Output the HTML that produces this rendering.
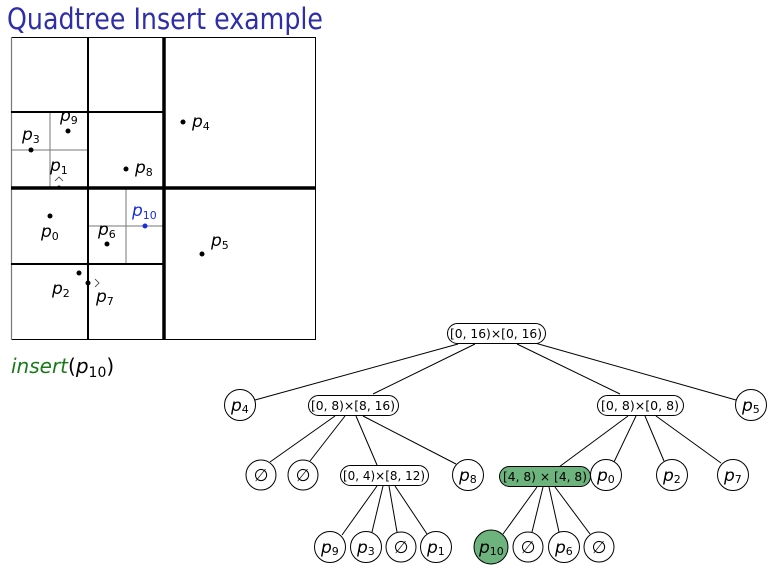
<!DOCTYPE html>
<html><head><meta charset="utf-8"><style>
html,body{margin:0;padding:0;background:#fff;}
svg{display:block;}
text{font-family:"DejaVu Sans","Liberation Sans",sans-serif;}
.p{font-style:italic;font-size:17px;}
.s{font-size:11px;font-style:normal;}
.b{font-size:12.5px;}
</style></head><body>
<svg width="777" height="569" viewBox="0 0 777 569" xmlns="http://www.w3.org/2000/svg">
<text x="7" y="29" font-size="29" fill="#2e2ea8" textLength="316" lengthAdjust="spacingAndGlyphs">Quadtree Insert example</text>
<g fill="none">
<rect x="11.5" y="37.5" width="304" height="302" stroke="#000" stroke-width="1"/>
<line x1="11.5" y1="37" x2="11.5" y2="340" stroke="#777" stroke-width="1.2"/>
<line x1="50" y1="112" x2="50" y2="188" stroke="#777" stroke-width="1"/>
<line x1="11" y1="150" x2="88" y2="150" stroke="#777" stroke-width="1"/>
<line x1="126" y1="188" x2="126" y2="264" stroke="#777" stroke-width="1"/>
<line x1="88" y1="226" x2="164" y2="226" stroke="#777" stroke-width="1"/>
<line x1="88" y1="37" x2="88" y2="340" stroke="#000" stroke-width="2"/>
<line x1="11" y1="112" x2="164" y2="112" stroke="#000" stroke-width="2"/>
<line x1="11" y1="264" x2="164" y2="264" stroke="#000" stroke-width="2"/>
<line x1="164" y1="37" x2="164" y2="340" stroke="#000" stroke-width="3.5"/>
<line x1="11" y1="188" x2="316" y2="188" stroke="#000" stroke-width="3.5"/>
</g>
<g fill="#000">
<circle cx="68" cy="131" r="2.5"/><circle cx="31" cy="150" r="2.5"/><circle cx="59" cy="187" r="1.5"/>
<circle cx="126" cy="169" r="2.5"/><circle cx="183" cy="122" r="2.5"/><circle cx="50" cy="216" r="2.5"/>
<circle cx="107" cy="244" r="2.5"/><circle cx="202" cy="254" r="2.5"/><circle cx="79" cy="273" r="2.5"/>
<circle cx="88" cy="283" r="2.5"/>
</g>
<circle cx="145" cy="226" r="2.5" fill="#1a2ee0"/>
<path d="M55 181 L59 177 L63 181" fill="none" stroke="#333" stroke-width="0.8"/>
<path d="M95 279 L99 283 L95 287" fill="none" stroke="#333" stroke-width="0.8"/>
<g class="p">
<text x="60" y="121">p<tspan class="s" dy="3">9</tspan></text>
<text x="22" y="140">p<tspan class="s" dy="3">3</tspan></text>
<text x="50" y="171">p<tspan class="s" dy="3">1</tspan></text>
<text x="135" y="173">p<tspan class="s" dy="3">8</tspan></text>
<text x="192" y="127">p<tspan class="s" dy="3">4</tspan></text>
<text x="41" y="237">p<tspan class="s" dy="3">0</tspan></text>
<text x="132" y="216" fill="#1a2ee0">p<tspan class="s" dy="3">10</tspan></text>
<text x="98" y="235">p<tspan class="s" dy="3">6</tspan></text>
<text x="211" y="246">p<tspan class="s" dy="3">5</tspan></text>
<text x="52" y="294">p<tspan class="s" dy="3">2</tspan></text>
<text x="96" y="302">p<tspan class="s" dy="3">7</tspan></text>
</g>
<text x="11" y="373" font-size="20"><tspan fill="#1a7a1a" font-style="italic">insert</tspan>(<tspan font-style="italic">p</tspan><tspan font-size="14" dy="4">10</tspan><tspan dy="-4">)</tspan></text>
<g stroke="#000" stroke-width="1">
<line x1="458" y1="344" x2="255" y2="400"/>
<line x1="475" y1="344" x2="373" y2="394"/>
<line x1="517" y1="344" x2="620" y2="394"/>
<line x1="535" y1="343" x2="736" y2="400"/>
<line x1="335" y1="416" x2="270" y2="462"/>
<line x1="345" y1="416" x2="310" y2="461"/>
<line x1="356" y1="416" x2="377" y2="465"/>
<line x1="363" y1="416" x2="456" y2="464"/>
<line x1="628" y1="416" x2="559" y2="467"/>
<line x1="636" y1="416" x2="614" y2="462"/>
<line x1="645" y1="416" x2="664" y2="461"/>
<line x1="656" y1="416" x2="721" y2="463"/>
<line x1="377" y1="486" x2="342" y2="535"/>
<line x1="383" y1="486" x2="372" y2="532"/>
<line x1="389" y1="486" x2="397" y2="532"/>
<line x1="395" y1="486" x2="427" y2="534"/>
<line x1="537" y1="487" x2="503" y2="534"/>
<line x1="543" y1="487" x2="532" y2="532"/>
<line x1="549" y1="487" x2="559" y2="532"/>
<line x1="555" y1="487" x2="590" y2="534"/>
</g>
<g stroke="#000" stroke-width="1" fill="#fff">
<rect x="447.5" y="323.5" width="98" height="20" rx="10"/>
<rect x="308.5" y="395.5" width="90" height="20" rx="10"/>
<rect x="597.5" y="395.5" width="86" height="20" rx="10"/>
<rect x="340.5" y="465.5" width="88" height="20" rx="10"/>
<rect x="499.5" y="466.5" width="91" height="20" rx="10" fill="#6db37e"/>
</g>
<g class="b" text-anchor="middle">
<text x="496" y="338" textLength="92" lengthAdjust="spacingAndGlyphs">[0, 16)×[0, 16)</text>
<text x="353" y="410" textLength="84" lengthAdjust="spacingAndGlyphs">[0, 8)×[8, 16)</text>
<text x="640" y="410" textLength="78" lengthAdjust="spacingAndGlyphs">[0, 8)×[0, 8)</text>
<text x="384" y="480" textLength="82" lengthAdjust="spacingAndGlyphs">[0, 4)×[8, 12)</text>
<text x="545" y="481" textLength="84" lengthAdjust="spacingAndGlyphs">[4, 8) × [4, 8)</text>
</g>
<g stroke="#000" stroke-width="1" fill="#fff">
<circle cx="240" cy="405" r="15.5"/><circle cx="751" cy="405" r="15.5"/>
<circle cx="261" cy="475" r="15"/><circle cx="303" cy="475" r="15"/>
<circle cx="468" cy="475" r="15.5"/><circle cx="606" cy="475" r="15.5"/>
<circle cx="672" cy="475" r="15.5"/><circle cx="733" cy="475" r="15.5"/>
<circle cx="330" cy="547" r="15.5"/><circle cx="366" cy="547" r="15.5"/>
<circle cx="401" cy="547" r="15"/><circle cx="436" cy="547" r="15.5"/>
<circle cx="491" cy="547" r="17" fill="#6db37e"/><circle cx="528" cy="547" r="15"/>
<circle cx="564" cy="547" r="15.5"/><circle cx="599" cy="547" r="15"/>
</g>
<g class="p">
<text x="231" y="411">p<tspan class="s" dy="2">4</tspan></text>
<text x="742" y="411">p<tspan class="s" dy="2">5</tspan></text>
<text x="459" y="481">p<tspan class="s" dy="2">8</tspan></text>
<text x="597" y="481">p<tspan class="s" dy="2">0</tspan></text>
<text x="663" y="481">p<tspan class="s" dy="2">2</tspan></text>
<text x="724" y="481">p<tspan class="s" dy="2">7</tspan></text>
<text x="321" y="553">p<tspan class="s" dy="2">9</tspan></text>
<text x="357" y="553">p<tspan class="s" dy="2">3</tspan></text>
<text x="427" y="553">p<tspan class="s" dy="2">1</tspan></text>
<text x="479" y="553">p<tspan class="s" dy="2">10</tspan></text>
<text x="555" y="553">p<tspan class="s" dy="2">6</tspan></text>
</g>
<g font-size="17" text-anchor="middle">
<text x="261" y="481">∅</text><text x="303" y="481">∅</text>
<text x="401" y="553">∅</text><text x="528" y="553">∅</text><text x="599" y="553">∅</text>
</g>
</svg>
</body></html>
